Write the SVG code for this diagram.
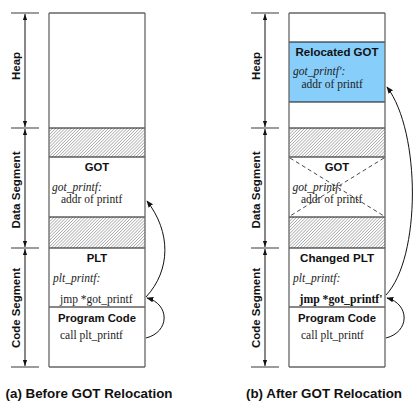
<svg xmlns="http://www.w3.org/2000/svg" width="414" height="403" viewBox="0 0 414 403">
<style>
.side{stroke:#666;stroke-width:1.3;fill:none}
.sep{stroke:#111;stroke-width:1.2;fill:none}
.tick{stroke:#666;stroke-width:1.3}
.dim{stroke:#111;stroke-width:1}
.hdr{font-family:"Liberation Sans",Arial,sans-serif;font-weight:bold;font-size:11.3px;fill:#111;text-anchor:middle}
.seg{font-family:"Liberation Sans",Arial,sans-serif;font-weight:bold;font-size:11.5px;fill:#111;text-anchor:middle}
.lbl{font-family:"Liberation Serif","Times New Roman",serif;font-style:italic;font-size:11.5px;fill:#222}
.code{font-family:"Liberation Serif","Times New Roman",serif;font-size:11.5px;fill:#222}
.codeb{font-family:"Liberation Serif","Times New Roman",serif;font-weight:bold;font-size:11.5px;fill:#111}
.cap{font-family:"Liberation Sans",Arial,sans-serif;font-weight:bold;font-size:13px;fill:#111;text-anchor:middle}
.conn{stroke:#111;stroke-width:1;fill:none;marker-end:url(#ah)}
.xline{stroke:#333;stroke-width:0.9;stroke-dasharray:4 3}
</style>
<defs>
<pattern id="hatch" width="2.2" height="2.2" patternUnits="userSpaceOnUse" patternTransform="rotate(45)">
<line x1="0" y1="0" x2="0" y2="2.2" stroke="#6e6e6e" stroke-width="0.9"/>
</pattern>
<marker id="ah" viewBox="0 0 10 10" refX="9" refY="5" markerWidth="7" markerHeight="7" markerUnits="userSpaceOnUse" orient="auto">
<path d="M0,1 L10,5 L0,9 Z" fill="#111"/>
</marker>
<marker id="da" viewBox="0 0 10 10" refX="10" refY="5" markerWidth="6" markerHeight="6" markerUnits="userSpaceOnUse" orient="auto-start-reverse">
<path d="M0,1.5 L10,5 L0,8.5 Z" fill="#111"/>
</marker>
</defs>

<!-- Panel (a) dimension scale -->
<g id="a-scale">
<line class="tick" x1="11" y1="13" x2="39" y2="13"/>
<line class="tick" x1="11" y1="128" x2="39" y2="128"/>
<line class="tick" x1="11" y1="248" x2="39" y2="248"/>
<line class="tick" x1="11" y1="367" x2="39" y2="367"/>
<line class="dim" x1="25" y1="14" x2="25" y2="127" marker-start="url(#da)" marker-end="url(#da)"/>
<line class="dim" x1="25" y1="129" x2="25" y2="247" marker-start="url(#da)" marker-end="url(#da)"/>
<line class="dim" x1="25" y1="249" x2="25" y2="366" marker-start="url(#da)" marker-end="url(#da)"/>
<text class="seg" transform="translate(20,66) rotate(-90)">Heap</text>
<text class="seg" transform="translate(20,190) rotate(-90)" textLength="77" lengthAdjust="spacingAndGlyphs">Data Segment</text>
<text class="seg" transform="translate(20,308) rotate(-90)" textLength="80" lengthAdjust="spacingAndGlyphs">Code Segment</text>
</g>

<!-- Panel (a) memory -->
<g id="a-heap">
<rect x="49" y="13" width="96" height="115" fill="#fff"/>
<line class="side" x1="49" y1="13" x2="145" y2="13"/>
</g>
<g id="a-hatch1">
<rect x="49" y="128" width="96" height="29" fill="url(#hatch)"/>
<line class="sep" x1="49" y1="128" x2="145" y2="128"/>
</g>
<g id="a-got">
<line class="sep" x1="49" y1="157" x2="145" y2="157"/>
<text class="hdr" x="97" y="171">GOT</text>
<text class="lbl" x="52" y="191">got_printf:</text>
<text class="code" x="61" y="203">addr of printf</text>
</g>
<g id="a-hatch2">
<rect x="49" y="217" width="96" height="31" fill="url(#hatch)"/>
<line class="sep" x1="49" y1="217" x2="145" y2="217"/>
</g>
<g id="a-plt">
<line class="sep" x1="49" y1="248" x2="145" y2="248"/>
<text class="hdr" x="97" y="262">PLT</text>
<text class="lbl" x="53" y="282">plt_printf:</text>
<text class="code" x="60" y="302.5">jmp *got_printf</text>
</g>
<g id="a-prog">
<line class="sep" x1="49" y1="307" x2="145" y2="307"/>
<text class="hdr" x="97" y="322" textLength="78" lengthAdjust="spacingAndGlyphs">Program Code</text>
<text class="code" x="60" y="339">call plt_printf</text>
<line class="side" x1="49" y1="367" x2="145" y2="367"/>
</g>
<g id="a-frame">
<line class="side" x1="49" y1="13" x2="49" y2="367"/>
<line class="side" x1="145" y1="13" x2="145" y2="367"/>
</g>
<text class="cap" x="89" y="398" textLength="167" lengthAdjust="spacingAndGlyphs">(a) Before GOT Relocation</text>

<!-- Panel (b) dimension scale -->
<g id="b-scale">
<line class="tick" x1="251" y1="13" x2="279" y2="13"/>
<line class="tick" x1="251" y1="128" x2="279" y2="128"/>
<line class="tick" x1="251" y1="248" x2="279" y2="248"/>
<line class="tick" x1="251" y1="367" x2="279" y2="367"/>
<line class="dim" x1="265" y1="14" x2="265" y2="127" marker-start="url(#da)" marker-end="url(#da)"/>
<line class="dim" x1="265" y1="129" x2="265" y2="247" marker-start="url(#da)" marker-end="url(#da)"/>
<line class="dim" x1="265" y1="249" x2="265" y2="366" marker-start="url(#da)" marker-end="url(#da)"/>
<text class="seg" transform="translate(260,66) rotate(-90)">Heap</text>
<text class="seg" transform="translate(260,190) rotate(-90)" textLength="77" lengthAdjust="spacingAndGlyphs">Data Segment</text>
<text class="seg" transform="translate(260,308) rotate(-90)" textLength="80" lengthAdjust="spacingAndGlyphs">Code Segment</text>
</g>

<!-- Panel (b) memory -->
<g id="b-heap">
<rect x="289" y="13" width="96" height="115" fill="#fff"/>
<line class="side" x1="289" y1="13" x2="385" y2="13"/>
</g>
<g id="b-relocated-got">
<rect x="289" y="42" width="96" height="60" fill="#87CEFA"/>
<line class="sep" x1="289" y1="42" x2="385" y2="42"/>
<line class="sep" x1="289" y1="102" x2="385" y2="102"/>
<text class="hdr" x="337" y="55.5" textLength="83" lengthAdjust="spacingAndGlyphs">Relocated GOT</text>
<text class="lbl" x="293" y="75">got_printf':</text>
<text class="code" x="301.5" y="88">addr of printf</text>
</g>
<g id="b-hatch1">
<rect x="289" y="128" width="96" height="29" fill="url(#hatch)"/>
<line class="sep" x1="289" y1="128" x2="385" y2="128"/>
</g>
<g id="b-got">
<line class="sep" x1="289" y1="157" x2="385" y2="157"/>
<text class="hdr" x="337" y="171">GOT</text>
<text class="lbl" x="292.5" y="191">got_printf:</text>
<text class="code" x="301" y="203">addr of printf</text>
<line class="xline" x1="290" y1="158" x2="384" y2="216"/>
<line class="xline" x1="384" y1="158" x2="290" y2="216"/>
</g>
<g id="b-hatch2">
<rect x="289" y="217" width="96" height="31" fill="url(#hatch)"/>
<line class="sep" x1="289" y1="217" x2="385" y2="217"/>
</g>
<g id="b-plt">
<line class="sep" x1="289" y1="248" x2="385" y2="248"/>
<text class="hdr" x="337" y="262" textLength="74" lengthAdjust="spacingAndGlyphs">Changed PLT</text>
<text class="lbl" x="293" y="282">plt_printf:</text>
<text class="codeb" x="299.5" y="302.5" textLength="83" lengthAdjust="spacingAndGlyphs">jmp *got_printf'</text>
</g>
<g id="b-prog">
<line class="sep" x1="289" y1="307" x2="385" y2="307"/>
<text class="hdr" x="337" y="322" textLength="78" lengthAdjust="spacingAndGlyphs">Program Code</text>
<text class="code" x="301" y="339">call plt_printf</text>
<line class="side" x1="289" y1="367" x2="385" y2="367"/>
</g>
<g id="b-frame">
<line class="side" x1="289" y1="13" x2="289" y2="367"/>
<line class="side" x1="385" y1="13" x2="385" y2="367"/>
</g>
<text class="cap" x="324" y="398" textLength="156" lengthAdjust="spacingAndGlyphs">(b) After GOT Relocation</text>

<!-- Connectors -->
<g id="connectors">
<path class="conn" d="M146,338 C170,332 170,304 147,298"/>
<path class="conn" d="M146,297 C171,270 171,232 147,201"/>
<path class="conn" d="M386,338 C410,332 410,304 387,298"/>
<path class="conn" d="M386,295 C421,258 421,132 387,87"/>
</g>
</svg>
